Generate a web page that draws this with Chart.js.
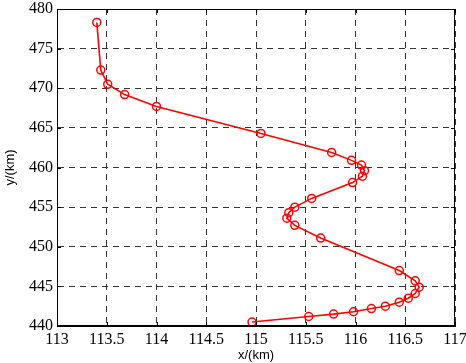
<!DOCTYPE html>
<html>
<head>
<meta charset="utf-8">
<script src="https://cdn.jsdelivr.net/npm/chart.js@4"></script>
<style>
  html, body { margin: 0; padding: 0; background: #fff; }
  #wrap { width: 466px; height: 363px; }
</style>
</head>
<body>
<div id="wrap"><canvas id="track"></canvas></div>
<script>
// track points, in path order
const xKm = [113.40, 113.44, 113.51, 113.68, 114.00, 115.05, 115.76, 115.96, 116.06, 116.09,
             116.07, 115.97, 115.56, 115.39, 115.33, 115.31, 115.39, 115.65, 116.44, 116.60,
             116.64, 116.60, 116.53, 116.44, 116.30, 116.16, 115.98, 115.78, 115.53, 114.96];
const yKm = [478.3, 472.3, 470.5, 469.2, 467.7, 464.3, 461.9, 460.9, 460.3, 459.6,
             458.9, 458.1, 456.1, 455.0, 454.3, 453.6, 452.7, 451.1, 447.0, 445.7,
             444.9, 444.1, 443.5, 443.0, 442.5, 442.2, 441.8, 441.5, 441.2, 440.5];
const xTicks = [113, 113.5, 114, 114.5, 115, 115.5, 116, 116.5, 117];
const yTicks = [440, 445, 450, 455, 460, 465, 470, 475, 480];

const points = xKm.map((x, i) => ({ x: x, y: yKm[i] }));

// box around the plot plus small inward ticks, like matlab
const boxPlugin = {
  id: 'box',
  afterDraw(chart) {
    const { ctx, chartArea: a, scales } = chart;
    ctx.save();
    ctx.strokeStyle = '#000';
    ctx.lineWidth = 1;
    ctx.setLineDash([]);
    ctx.strokeRect(a.left + 0.5, a.top + 0.5, a.right - a.left - 1, a.bottom - a.top - 1);
    const len = 4;
    ctx.beginPath();
    xTicks.forEach(v => {
      const px = Math.round(scales.x.getPixelForValue(v)) + 0.5;
      ctx.moveTo(px, a.bottom); ctx.lineTo(px, a.bottom - len);
      ctx.moveTo(px, a.top); ctx.lineTo(px, a.top + len);
    });
    yTicks.forEach(v => {
      const py = Math.round(scales.y.getPixelForValue(v)) + 0.5;
      ctx.moveTo(a.left, py); ctx.lineTo(a.left + len, py);
      ctx.moveTo(a.right, py); ctx.lineTo(a.right - len, py);
    });
    ctx.stroke();
    ctx.restore();
  }
};

const tickFont = { family: 'Liberation Serif', size: 16 };
const titleFont = { family: 'Liberation Sans', size: 13 };

new Chart(document.getElementById('track'), {
  type: 'scatter',
  data: {
    datasets: [{
      data: points,
      showLine: true,
      borderColor: '#ff0000',
      borderWidth: 1.6,
      pointRadius: 4,
      pointBorderWidth: 1.5,
      pointBorderColor: '#ff0000',
      pointBackgroundColor: 'rgba(0,0,0,0)',
      tension: 0
    }]
  },
  options: {
    responsive: true,
    maintainAspectRatio: false,
    animation: false,
    layout: { padding: { top: 9, right: 11, left: 0, bottom: 0 } },
    plugins: { legend: { display: false }, tooltip: { enabled: false } },
    scales: {
      x: {
        type: 'linear',
        min: 113, max: 117,
        afterBuildTicks: s => { s.ticks = xTicks.map(v => ({ value: v })); },
        afterFit: s => { s.height = 37; s.paddingLeft = 0; s.paddingRight = 0; },
        ticks: { font: tickFont, color: '#000', padding: 4, maxRotation: 0, autoSkip: false,
                 callback: v => String(v) },
        grid: { color: '#333', lineWidth: 1, drawTicks: false },
        border: { display: true, color: '#000', width: 1, dash: [6, 5] },
        title: { display: true, text: 'x/(km)', font: titleFont, color: '#000', padding: { top: 0, bottom: 0 } }
      },
      y: {
        type: 'linear',
        min: 440, max: 480,
        afterBuildTicks: s => { s.ticks = yTicks.map(v => ({ value: v })); },
        afterFit: s => { s.width = 57; s.paddingTop = 0; s.paddingBottom = 0; },
        ticks: { font: tickFont, color: '#000', padding: 4, autoSkip: false,
                 callback: v => String(v) },
        grid: { color: '#333', lineWidth: 1, drawTicks: false },
        border: { display: true, color: '#000', width: 1, dash: [6, 5] },
        title: { display: true, text: 'y/(km)', font: titleFont, color: '#000', padding: { top: 3, bottom: 0 } }
      }
    }
  },
  plugins: [boxPlugin]
});
</script>
</body>
</html>
